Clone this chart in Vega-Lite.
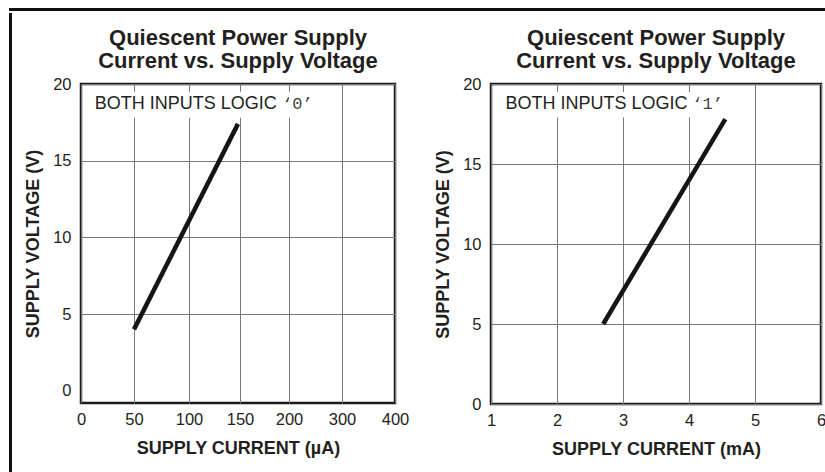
{
  "$schema": "https://vega.github.io/schema/vega-lite/v6.json",
  "background": "white",
  "padding": {"left": 7, "top": 6, "right": 0, "bottom": 0},
  "config": {
    "font": "Liberation Sans",
    "view": {"stroke": "#1a1a1a", "strokeWidth": 2.5},
    "axis": {
      "grid": true,
      "gridColor": "#777777",
      "gridWidth": 1,
      "ticks": false,
      "domain": false,
      "labelFont": "Liberation Sans",
      "labelFontSize": 16.5,
      "labelColor": "#231f20",
      "labelPadding": 10,
      "labelFlush": false,
      "titleFont": "Liberation Sans",
      "titleFontSize": 18,
      "titleFontWeight": "bold",
      "titleColor": "#231f20",
      "titlePadding": 10
    },
    "axisX": {"labelPadding": 8, "titlePadding": 12},
    "title": {
      "font": "Liberation Sans",
      "fontSize": 22,
      "fontWeight": "bold",
      "color": "#231f20",
      "anchor": "middle",
      "frame": "group",
      "lineHeight": 23,
      "offset": 3
    }
  },
  "spacing": -66,
  "hconcat": [
    {
      "vconcat": [
        {
          "data": {"values": [{"edge": "corner"}]},
          "mark": {"type": "point", "opacity": 0},
          "width": 72,
          "height": 3,
          "view": {"fill": "#111111", "stroke": null}
        },
        {
          "data": {"values": [{"edge": "left"}]},
          "mark": {"type": "point", "opacity": 0},
          "width": 3,
          "height": 470,
          "view": {"fill": "#111111", "stroke": null}
        }
      ],
      "spacing": 0
    },
    {
      "vconcat": [
        {
          "data": {"values": [{"edge": "top"}]},
          "mark": {"type": "point", "opacity": 0},
          "width": 815,
          "height": 3,
          "view": {"fill": "#111111", "stroke": null}
        },
        {
          "hconcat": [
            {
              "width": 314,
              "height": 319,
              "title": {"text": ["Quiescent Power Supply", "Current vs. Supply Voltage"]},
              "layer": [
                {
                  "data": {"values": [{"x1": 10, "x2": 234, "y1": 19.5, "y2": 17.8}]},
                  "mark": {"type": "rect", "color": "white"},
                  "encoding": {
                    "x": {"field": "x1", "type": "quantitative"},
                    "x2": {"field": "x2"},
                    "y": {"field": "y1", "type": "quantitative"},
                    "y2": {"field": "y2"}
                  }
                },
                {
                  "data": {"values": [
                    {"current": 50, "voltage": 4.0},
                    {"current": 148, "voltage": 17.4}
                  ]},
                  "mark": {"type": "line", "color": "#151515", "strokeWidth": 4.5, "strokeCap": "butt"},
                  "encoding": {
                    "x": {
                      "field": "current", "type": "quantitative",
                      "scale": {"domain": [0, 50, 100, 150, 200, 300, 400], "range": [0, 53, 108, 159, 208, 261, 314], "nice": false, "zero": false},
                      "axis": {"values": [0, 50, 100, 150, 200, 300, 400], "title": "SUPPLY CURRENT (µA)"}
                    },
                    "y": {
                      "field": "voltage", "type": "quantitative",
                      "scale": {"domain": [-0.8, 20], "nice": false, "zero": false},
                      "axis": {
                        "values": [0, 5, 10, 15, 20],
                        "title": "SUPPLY VOLTAGE (V)",
                        "gridOpacity": {"condition": {"test": "datum.value <= 0", "value": 0}, "value": 1}
                      }
                    }
                  }
                },
                {
                  "data": {"values": [{"current": 13, "voltage": 18.7, "label": "BOTH INPUTS LOGIC"}]},
                  "mark": {"type": "text", "align": "left", "baseline": "middle", "fontSize": 18, "color": "#231f20"},
                  "encoding": {
                    "x": {"field": "current", "type": "quantitative"},
                    "y": {"field": "voltage", "type": "quantitative"},
                    "text": {"field": "label"}
                  }
                },
                {
                  "data": {"values": [{"current": 193, "voltage": 18.7, "label": "‘0’"}]},
                  "mark": {"type": "text", "align": "left", "baseline": "middle", "fontSize": 17, "font": "Liberation Mono", "color": "#444444"},
                  "encoding": {
                    "x": {"field": "current", "type": "quantitative"},
                    "y": {"field": "voltage", "type": "quantitative"},
                    "text": {"field": "label"}
                  }
                }
              ]
            },
            {
              "width": 330,
              "height": 320,
              "title": {"text": ["Quiescent Power Supply", "Current vs. Supply Voltage"]},
              "layer": [
                {
                  "data": {"values": [{"x1": 1.15, "x2": 4.4, "y1": 19.5, "y2": 17.9}]},
                  "mark": {"type": "rect", "color": "white"},
                  "encoding": {
                    "x": {"field": "x1", "type": "quantitative"},
                    "x2": {"field": "x2"},
                    "y": {"field": "y1", "type": "quantitative"},
                    "y2": {"field": "y2"}
                  }
                },
                {
                  "data": {"values": [
                    {"current": 2.7, "voltage": 5.0},
                    {"current": 4.55, "voltage": 17.8}
                  ]},
                  "mark": {"type": "line", "color": "#151515", "strokeWidth": 4.5, "strokeCap": "butt"},
                  "encoding": {
                    "x": {
                      "field": "current", "type": "quantitative",
                      "scale": {"domain": [1, 6], "nice": false, "zero": false},
                      "axis": {"values": [1, 2, 3, 4, 5, 6], "format": "d", "title": "SUPPLY CURRENT (mA)"}
                    },
                    "y": {
                      "field": "voltage", "type": "quantitative",
                      "scale": {"domain": [0, 20], "nice": false, "zero": false},
                      "axis": {"values": [0, 5, 10, 15, 20], "title": "SUPPLY VOLTAGE (V)"}
                    }
                  }
                },
                {
                  "data": {"values": [{"current": 1.22, "voltage": 18.75, "label": "BOTH INPUTS LOGIC"}]},
                  "mark": {"type": "text", "align": "left", "baseline": "middle", "fontSize": 18, "color": "#231f20"},
                  "encoding": {
                    "x": {"field": "current", "type": "quantitative"},
                    "y": {"field": "voltage", "type": "quantitative"},
                    "text": {"field": "label"}
                  }
                },
                {
                  "data": {"values": [{"current": 4.05, "voltage": 18.75, "label": "‘1’"}]},
                  "mark": {"type": "text", "align": "left", "baseline": "middle", "fontSize": 17, "font": "Liberation Mono", "color": "#444444"},
                  "encoding": {
                    "x": {"field": "current", "type": "quantitative"},
                    "y": {"field": "voltage", "type": "quantitative"},
                    "text": {"field": "label"}
                  }
                }
              ]
            }
          ],
          "spacing": 22
        }
      ],
      "spacing": 12
    }
  ]
}
